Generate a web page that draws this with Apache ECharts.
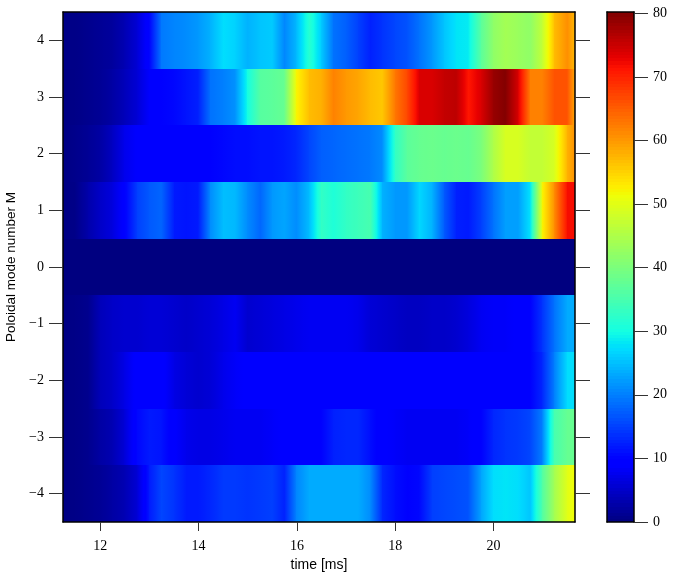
<!DOCTYPE html>
<html><head><meta charset="utf-8">
<style>html,body{margin:0;padding:0;background:#fff}#c{width:676px;height:581px}</style>
<script src="https://cdn.jsdelivr.net/npm/echarts@6/dist/echarts.min.js"></script>
</head><body><div id="c"></div>
<script>
const times = [11.24,11.5,11.75,12,12.25,12.5,12.75,13,13.25,13.5,13.75,14,14.25,14.5,14.75,15,15.25,15.5,15.75,16,16.25,16.5,16.75,17,17.25,17.5,17.75,18,18.25,18.5,18.75,19,19.25,19.5,19.75,20,20.25,20.5,20.75,21,21.25,21.5,21.66];
const modes = [-4,-3,-2,-1,0,1,2,3,4];
const mP4 = [0.5,0.5,1,1.5,2,3.5,6,10,19.5,20.5,21,22,24,27.5,26.5,24,25.5,26,20.5,24.5,32,26,19,17.5,15,12.5,14,15.5,16.5,19,22,25.5,28,28.5,37,42,44,43,42,47,57,61,57];
const mP3 = [0.3,0.5,1,1.5,2.5,4,6,9,10,10.5,11.5,12.5,19,20,21.5,30,36.5,37,38,52,57,58,62,60,59,57,56,63,67,74,74,75.5,76,71,74,78.5,80,74,62,62,66,66,58];
const mP2 = [0.3,0.8,1.5,2.5,4.5,7.5,9,9.5,10,9.5,9,9.5,10,10.5,11,11,11.5,11.5,12,13,15.5,17.5,18,18.5,19,19.5,21,33,37,38,38.5,38,38.5,38,40,45,49,49,47,47,49,58,61];
const mP1 = [0.3,0.6,3,5,6.5,9.5,15,17,18,12,11.5,12,21,25,24.5,21,18,22,23,21,25,33,31,33,34,35,24,22,22,27,24,17,12.5,12,15,19,22.5,22.5,28,52,61,72,72];
const m0 = [0,0,0,0,0,0,0,0,0,0,0,0,0,0,0,0,0,0,0,0,0,0,0,0,0,0,0,0,0,0,0,0,0,0,0,0,0,0,0,0,0,0,0];
const mN1 = [0.3,0.5,1,4,5,5.5,5.5,6,6,5.5,5,5.5,6,7,8,5.5,6,6.5,7,7.5,8,8,8,8,7.5,6,5.5,5,4.5,4.5,5,5,5.5,6.5,8,8.5,8.5,9,10,14,19,23.5,23.5];
const mN2 = [0.3,0.5,1,4,5,7,9.5,9.5,9.5,7,6,5.5,6,7.5,8.5,9,9,9,9,9,9.5,9.5,9.5,9.5,9,9,9,9.5,9.5,9.5,9.5,9.5,9.5,9.5,9.5,9.5,9.5,9.5,10,13,20,27.5,27.5];
const mN3 = [0.3,0.5,1,2.5,3.5,6,10.5,12,11.5,9,7.5,7,7,7.5,8,8,8,8.5,9,9.5,10,10,12.5,13,13,11,9,8.5,8,8,8,8,8,8.5,10,13,14,14.5,15.5,20,35,38,38];
const mN4 = [0.3,0.5,1,1.5,2.5,3.5,6,12,15.5,14,12,12,13,14.5,14.5,14,14.5,15,12.5,20.5,23.5,23.5,23.5,23.5,23.5,21,13,11,10,10.5,15,15.5,16,16.5,23,27.5,28,27.5,25.5,36,44,50,52];
const rowValues = [mN4,mN3,mN2,mN1,m0,mP1,mP2,mP3,mP4];
const xTicks = [12,14,16,18,20];
const yTicks = [-4,-3,-2,-1,0,1,2,3,4];
const barTicks = [0,10,20,30,40,50,60,70,80];
const barMax = 80.2;
const barSteps = Array.from({length:161},(_,i)=>i*0.5);

function seg(t,pts){for(let i=1;i<pts.length;i++){if(t<=pts[i][0]){const a=pts[i-1],b=pts[i];return a[1]+(b[1]-a[1])*(t-a[0])/(b[0]-a[0]);}}return pts[pts.length-1][1];}
function jet(v){
  const t=Math.max(0,Math.min(1,v/barMax));
  const r=seg(t,[[0,0],[.35,0],[.66,1],[.89,1],[1,.5]]);
  const g=seg(t,[[0,0],[.125,0],[.375,1],[.64,1],[.91,0],[1,0]]);
  const b=seg(t,[[0,.5],[.11,1],[.34,1],[.65,0],[1,0]]);
  return `rgb(${Math.round(r*255)},${Math.round(g*255)},${Math.round(b*255)})`;
}
function gradient(v0,v1){
  const stops=[];const n=6;
  for(let i=0;i<=n;i++){stops.push({offset:i/n,color:jet(v0+(v1-v0)*i/n)});}
  return new echarts.graphic.LinearGradient(0,0,1,0,stops);
}
const cells=[];
modes.forEach((m,r)=>{for(let i=0;i+1<times.length;i++){cells.push([times[i],times[i+1],m,rowValues[r][i],rowValues[r][i+1]]);}});
const barCells=barSteps.slice(0,-1).map((v,i)=>[v,i+1<barSteps.length-1?barSteps[i+1]:barMax]);

const serif='"Liberation Serif","Times New Roman",serif';
const sans='"Liberation Sans",Arial,sans-serif';
const fmt=v=>String(v).replace('-','\u2212');
const line={lineStyle:{color:'#000',width:1.5}};
const tickStyle={color:'#333',width:1};

const option={
  animation:false,
  backgroundColor:'#fff',
  grid:[
    {left:63,top:12,width:512,height:510,show:false,outerBoundsMode:'none'},
    {left:607,top:12,width:27,height:510,show:false,outerBoundsMode:'none'}
  ],
  xAxis:[
    {gridIndex:0,type:'value',min:11.24,max:21.66,position:'bottom',z:10,
     name:'time [ms]',nameLocation:'middle',nameGap:35,
     nameTextStyle:{fontFamily:sans,fontSize:14,color:'#000'},
     axisLine:{show:true,onZero:false,...line},splitLine:{show:false},
     axisTick:{show:true,length:9,inside:false,lineStyle:tickStyle,customValues:xTicks},
     axisLabel:{show:true,margin:17,fontFamily:serif,fontSize:14,color:'#000',customValues:xTicks,formatter:fmt}},
    {gridIndex:0,type:'value',min:11.24,max:21.66,position:'top',z:10,
     axisLine:{show:true,onZero:false,...line},splitLine:{show:false},axisTick:{show:false},axisLabel:{show:false}},
    {gridIndex:1,type:'value',min:0,max:1,position:'bottom',z:10,
     axisLine:{show:true,onZero:false,...line},splitLine:{show:false},axisTick:{show:false},axisLabel:{show:false}},
    {gridIndex:1,type:'value',min:0,max:1,position:'top',z:10,
     axisLine:{show:true,onZero:false,...line},splitLine:{show:false},axisTick:{show:false},axisLabel:{show:false}}
  ],
  yAxis:[
    {gridIndex:0,type:'value',min:-4.5,max:4.5,position:'left',z:10,
     name:'Poloidal mode number M',nameLocation:'middle',nameGap:36,
     nameTextStyle:{fontFamily:sans,fontSize:13.5,color:'#000'},
     axisLine:{show:true,onZero:false,...line},splitLine:{show:false},
     axisTick:{show:true,length:14,lineStyle:tickStyle,customValues:yTicks},
     axisLabel:{show:true,margin:19,fontFamily:serif,fontSize:14,color:'#000',customValues:yTicks,formatter:fmt}},
    {gridIndex:0,type:'value',min:-4.5,max:4.5,position:'right',z:10,
     axisLine:{show:true,onZero:false,...line},splitLine:{show:false},
     axisTick:{show:true,length:15,lineStyle:tickStyle,customValues:yTicks},axisLabel:{show:false}},
    {gridIndex:1,type:'value',min:0,max:barMax,position:'left',z:10,
     axisLine:{show:true,onZero:false,...line},splitLine:{show:false},axisTick:{show:false},axisLabel:{show:false}},
    {gridIndex:1,type:'value',min:0,max:barMax,position:'right',z:10,
     axisLine:{show:true,onZero:false,...line},splitLine:{show:false},
     axisTick:{show:true,length:14,lineStyle:tickStyle,customValues:barTicks},
     axisLabel:{show:true,margin:19,fontFamily:serif,fontSize:14,color:'#000',customValues:barTicks,formatter:fmt}}
  ],
  series:[
    {type:'custom',xAxisIndex:0,yAxisIndex:0,clip:true,silent:true,data:cells,
     encode:{x:[0,1],y:2},
     renderItem(params,api){
       const t0=api.value(0),t1=api.value(1),m=api.value(2);
       const a=api.coord([t0,m+0.5]),b=api.coord([t1,m-0.5]);
       const x=Math.floor(a[0]),x2=Math.ceil(b[0]),y=Math.round(a[1]),y2=Math.round(b[1]);
       return {type:'rect',shape:{x,y,width:x2-x,height:y2-y},
               style:{fill:gradient(api.value(3),api.value(4))}};
     }},
    {type:'custom',xAxisIndex:2,yAxisIndex:3,clip:true,silent:true,data:barCells,
     encode:{y:[0,1]},
     renderItem(params,api){
       const a=api.coord([0,api.value(1)]),b=api.coord([1,api.value(0)]);
       const y=Math.floor(a[1]),y2=Math.ceil(b[1]);
       return {type:'rect',shape:{x:a[0],y,width:b[0]-a[0],height:y2-y},
               style:{fill:jet((api.value(0)+api.value(1))/2)}};
     }}
  ]
};
const chart=echarts.init(document.getElementById('c'),null,{renderer:'canvas'});
chart.setOption(option);
</script></body></html>
